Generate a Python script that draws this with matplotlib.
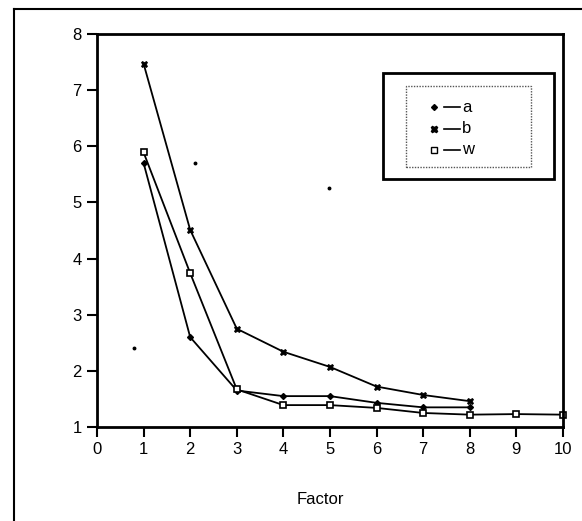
import matplotlib.pyplot as plt
from matplotlib.lines import Line2D
from matplotlib.patches import Rectangle

plt.rcParams["font.family"] = ["Liberation Sans", "DejaVu Sans"]

# ---------------------------------------------------------------------------
# Data
# ---------------------------------------------------------------------------
factor_ab = [1, 2, 3, 4, 5, 6, 7, 8]
factor_w = [1, 2, 3, 4, 5, 6, 7, 8, 9, 10]
a_values = [5.70, 2.60, 1.65, 1.55, 1.55, 1.43, 1.35, 1.35]
b_values = [7.47, 4.51, 2.75, 2.34, 2.07, 1.72, 1.57, 1.46]
w_values = [5.89, 3.74, 1.67, 1.39, 1.39, 1.34, 1.25, 1.22, 1.23, 1.22]

# stray specks from the scan
speck_x = [2.1, 0.8, 4.98]
speck_y = [5.70, 2.40, 5.26]

x_ticks = list(range(0, 11))
y_ticks = list(range(1, 9))

W, H = 582, 521


def fx(px):
    return px / W


def fy(py):
    return 1 - py / H


fig = plt.figure(figsize=(W / 100, H / 100), dpi=100)
ax = fig.add_axes([fx(97), fy(427), fx(563) - fx(97), fy(34) - fy(427)])

line_kw = dict(color="black", lw=1.3, clip_on=False)
ax.plot(factor_ab, a_values, marker="D", ms=3, mfc="black", mec="black", **line_kw)
ax.plot(factor_ab, b_values, marker="X", ms=4.5, mfc="black", mec="black", mew=0.5, **line_kw)
ax.plot(factor_w, w_values, marker="s", ms=5, mfc="white", mec="black", mew=1.2, **line_kw)
ax.plot(speck_x, speck_y, ls="none", marker="o", ms=1.8, color="black")

ax.set_xlim(0, 10)
ax.set_ylim(1, 8)
ax.set_xticks(x_ticks)
ax.set_yticks(y_ticks)
for s in ax.spines.values():
    s.set_linewidth(2)
ax.tick_params(direction="out", length=7, width=1.5, labelsize=12, pad=4)
ax.set_xlabel("Factor", fontsize=12)
ax.xaxis.set_label_coords(0.48, -0.165)

# legend: outer solid box, inner dotted box, marker + dash + label
fig.add_artist(Rectangle((fx(383), fy(179)), fx(554) - fx(383), fy(73) - fy(179),
                         transform=fig.transFigure, fill=False, ec="black", lw=2))
fig.add_artist(Rectangle((fx(406), fy(167)), fx(531) - fx(406), fy(86) - fy(167),
                         transform=fig.transFigure, fill=False, ec="#555555", lw=1,
                         ls=(0, (1, 1))))
legend_items = [("a", "D", 3, "black"), ("b", "X", 4.5, "black"), ("w", "s", 4.5, "white")]
for i, (name, mk, ms, face) in enumerate(legend_items):
    py = 107 + i * 21.5
    fig.add_artist(Line2D([fx(434)], [fy(py)], marker=mk, ms=ms, mfc=face,
                          mec="black", ls="none", transform=fig.transFigure))
    fig.add_artist(Line2D([fx(444), fx(460)], [fy(py), fy(py)], color="black",
                          lw=1.2, transform=fig.transFigure))
    fig.text(fx(462), fy(py), name, fontsize=12, va="center", ha="left")

# outer page frame (left and top edges)
fig.add_artist(Line2D([fx(14), fx(14)], [0, fy(9)], color="black", lw=1.5,
                      transform=fig.transFigure))
fig.add_artist(Line2D([fx(14), 1], [fy(9), fy(9)], color="black", lw=1.5,
                      transform=fig.transFigure))

fig.savefig("out.png", dpi=100)
